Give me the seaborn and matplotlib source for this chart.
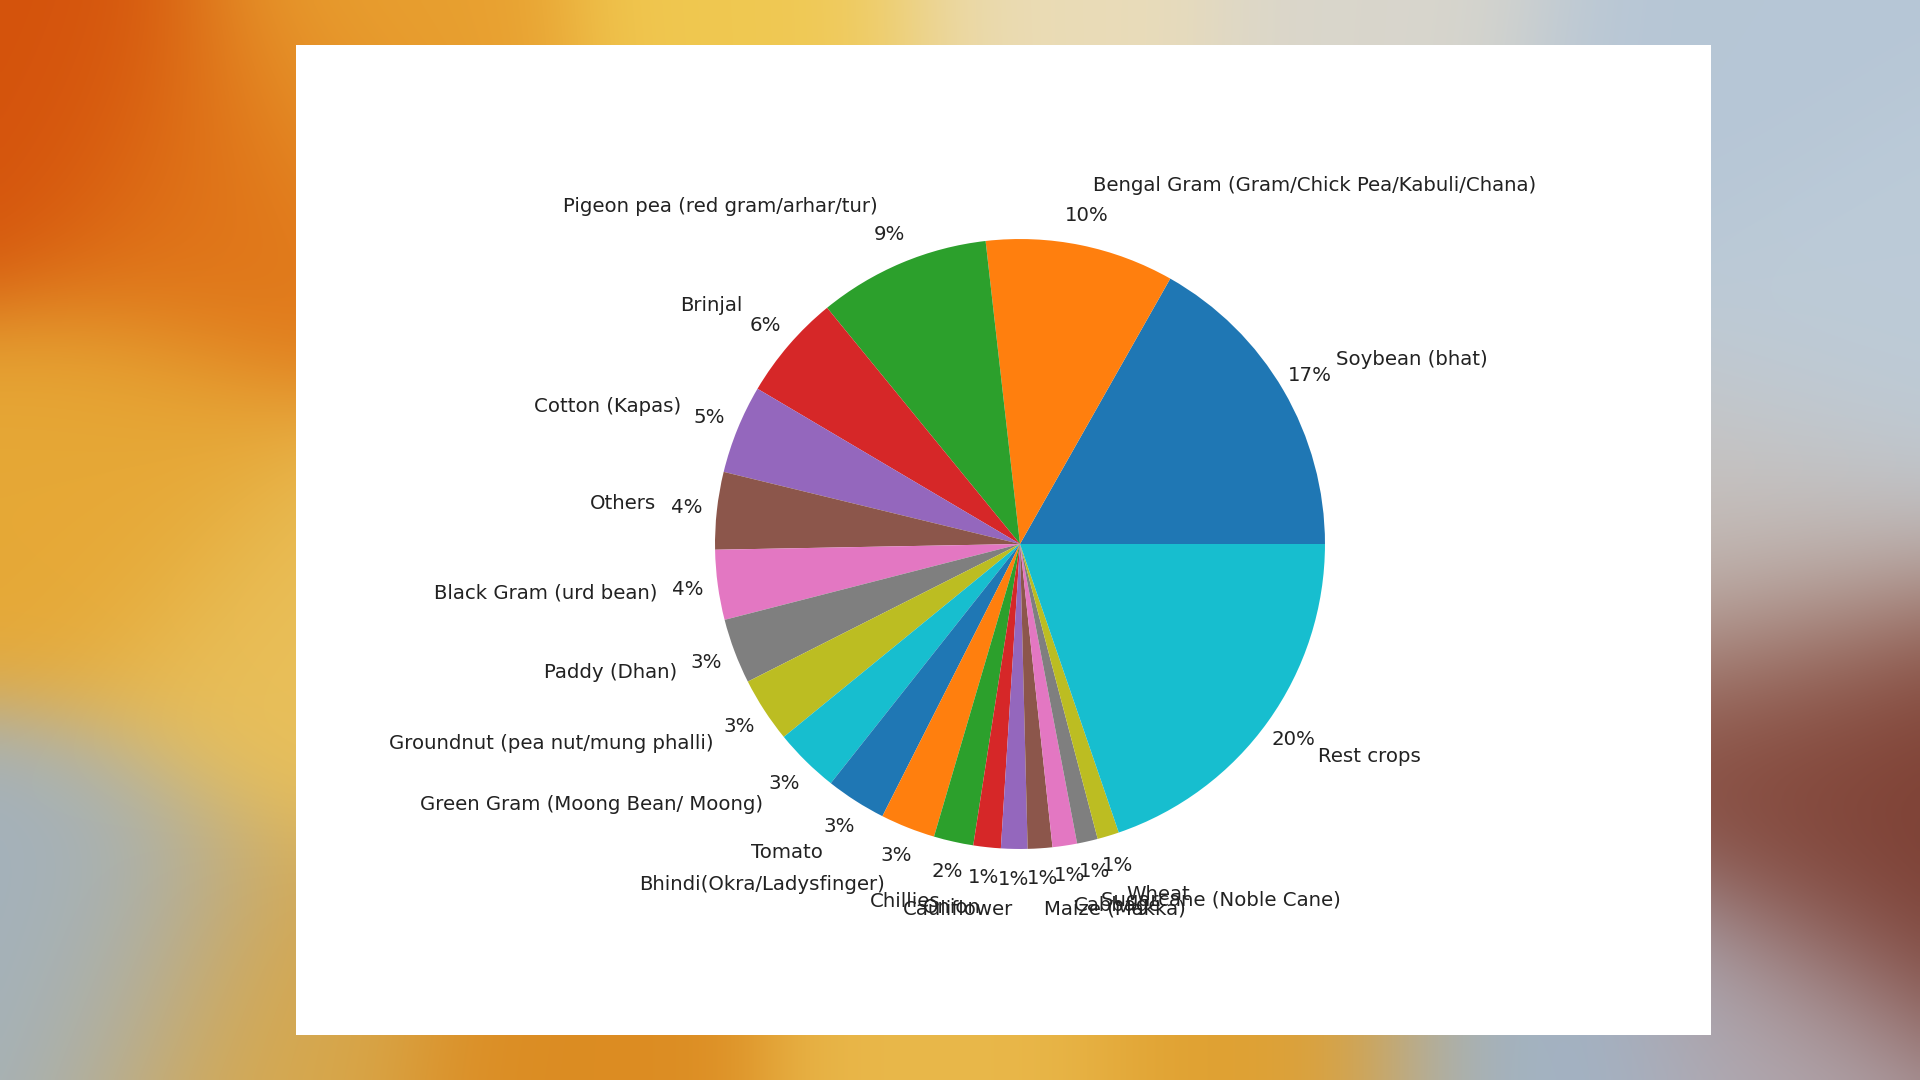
import numpy as np
import matplotlib
matplotlib.use("Agg")
import matplotlib.pyplot as plt
import matplotlib.colors as mcolors
import seaborn as sns

# crop shares (percent of total), counter-clockwise from 3 o'clock
crops = ["Soybean (bhat)", "Bengal Gram (Gram/Chick Pea/Kabuli/Chana)",
         "Pigeon pea (red gram/arhar/tur)", "Brinjal", "Cotton (Kapas)", "Others",
         "Black Gram (urd bean)", "Paddy (Dhan)", "Groundnut (pea nut/mung phalli)",
         "Green Gram (Moong Bean/ Moong)", "Tomato", "Bhindi(Okra/Ladysfinger)",
         "Chillies", "Onion", "Cauliflower", "Maize (Makka)", "Cabbage",
         "Sugarcane (Noble Cane)", "Wheat", "Rest crops"]
shares = [16.8, 10.0, 9.1, 5.6, 4.7, 4.1, 3.7, 3.45, 3.45, 3.45, 3.2, 2.9,
          2.1, 1.45, 1.4, 1.3, 1.3, 1.1, 1.15, 19.75]

sns.set_style("white")
plt.rcParams['font.family'] = ['DejaVu Sans']

fig = plt.figure(figsize=(19.2, 10.8), dpi=100)

# watercolour-like backdrop: smooth blend of a few colour blobs
blobs = [
    (0.02, 0.08, "#d4520c"), (0.12, 0.18, "#e07418"), (0.20, 0.05, "#e8a030"),
    (0.06, 0.45, "#e6a836"), (0.16, 0.60, "#e9c05a"), (0.04, 0.88, "#a3b2bd"),
    (0.14, 0.95, "#d8a84a"), (0.40, 0.02, "#f0c850"), (0.55, 0.01, "#eadcb8"),
    (0.72, 0.02, "#d9d6cc"), (0.88, 0.06, "#b6c6d6"), (0.96, 0.30, "#bccbd8"),
    (0.92, 0.50, "#c9c4c0"), (0.94, 0.68, "#86483a"), (0.99, 0.80, "#7a3c30"),
    (0.92, 0.97, "#b3a9b0"), (0.30, 0.99, "#dc8c22"), (0.50, 0.99, "#e9b84a"),
    (0.66, 0.99, "#e0a030"), (0.80, 0.99, "#9fb4c8"),
]
gx, gy = np.meshgrid(np.linspace(0, 1, 384), np.linspace(0, 1, 216))
acc = np.zeros(gx.shape + (3,))
wsum = np.zeros(gx.shape)
for bx, by, c in blobs:
    w = np.exp(-(((gx - bx) * 1.78) ** 2 + (gy - by) ** 2) / 0.02)
    acc += w[..., None] * np.array(mcolors.to_rgb(c))
    wsum += w
bg = acc / wsum[..., None]
ax_bg = fig.add_axes([0, 0, 1, 1])
ax_bg.imshow(bg, aspect="auto", extent=[0, 1, 1, 0], interpolation="bicubic")
ax_bg.axis("off")

# white panel
ax_panel = fig.add_axes([296 / 1920, 45 / 1080, 1415 / 1920, 990 / 1080])
ax_panel.set_facecolor("white")
ax_panel.set_xticks([])
ax_panel.set_yticks([])
for s in ax_panel.spines.values():
    s.set_visible(False)

# pie
ax = fig.add_axes([0.3327, 0.1433, 0.3971, 0.706])
colors = sns.color_palette("tab10", 10)
ax.pie(shares, labels=crops, colors=colors, autopct="%1.0f%%",
       pctdistance=1.1, labeldistance=1.2,
       wedgeprops={"linewidth": 0, "edgecolor": "none"},
       textprops={"fontsize": 14.2, "color": "#222222"})
ax.set_xlim(-1.25, 1.25)
ax.set_ylim(-1.25, 1.25)
ax.set_aspect("equal")

fig.savefig("out.png", dpi=100)
